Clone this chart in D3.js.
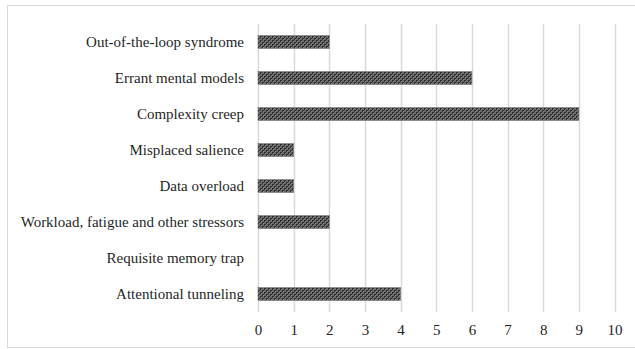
<!DOCTYPE html>
<html><head><meta charset="utf-8">
<script src="https://cdn.jsdelivr.net/npm/d3@7"></script>
<style>body{margin:0;background:#fff}svg{display:block}
text{font-family:"Liberation Serif","Times New Roman",Tinos,"DejaVu Serif",serif !important;}
</style>
</head><body>
<svg id="c" width="635" height="349"></svg>
<script>
const categories = ["Out-of-the-loop syndrome","Errant mental models","Complexity creep","Misplaced salience","Data overload","Workload, fatigue and other stressors","Requisite memory trap","Attentional tunneling"];
const values = [2,6,9,1,1,2,0,4];
const ticks = [0,1,2,3,4,5,6,7,8,9,10];

const svg = d3.select("#c");

svg.append("rect").attr("x",7.5).attr("y",5.5).attr("width",640).attr("height",342)
  .attr("fill","#fff").attr("stroke","#d9d9d9");

const defs = svg.append("defs");
const pat = defs.append("pattern").attr("id","pat").attr("patternUnits","userSpaceOnUse")
  .attr("width",4).attr("height",4);
pat.append("rect").attr("width",4).attr("height",4).attr("fill","#6a6a6a");
pat.append("rect").attr("x",0).attr("y",0).attr("width",2).attr("height",2).attr("fill","#2e2e2e");
pat.append("rect").attr("x",2).attr("y",2).attr("width",2).attr("height",2).attr("fill","#2e2e2e");
pat.append("rect").attr("x",1).attr("y",1).attr("width",1).attr("height",1).attr("fill","#888");
pat.append("rect").attr("x",3).attr("y",3).attr("width",1).attr("height",1).attr("fill","#888");

const x = d3.scaleLinear().domain([0,10]).range([258,614.5]);
const y = d3.scaleBand().domain(categories).range([24,312]).paddingInner(0.64).paddingOuter(0.32);

svg.append("g").selectAll("line").data(ticks).join("line")
  .attr("x1",d=>Math.round(x(d))+0.5).attr("x2",d=>Math.round(x(d))+0.5)
  .attr("y1",24).attr("y2",312).attr("stroke","#d9d9d9").attr("stroke-width",1.5);

svg.append("g").selectAll("rect").data(values).join("rect")
  .attr("x",x(0)).attr("y",(d,i)=>y(categories[i]))
  .attr("width",d=>x(d)-x(0)).attr("height",y.bandwidth())
  .attr("fill","url(#pat)").attr("stroke","#7a7a7a").attr("stroke-width",0.6)
  .style("display",d=>d>0?null:"none");

const yAxis = d3.axisLeft(y).tickSize(0).tickPadding(14);
const gy = svg.append("g").attr("transform",`translate(${x(0)},0)`).call(yAxis);
gy.select(".domain").remove();
gy.selectAll("text").style("font-size","15px").attr("fill","#1f1f1f");

const xAxis = d3.axisBottom(x).tickValues(ticks).tickSize(0).tickPadding(12).tickFormat(d3.format("d"));
const gx = svg.append("g").attr("transform","translate(0,312)").call(xAxis);
gx.select(".domain").remove();
gx.selectAll("text").style("font-size","15px").attr("fill","#1f1f1f");
</script>
</body></html>
